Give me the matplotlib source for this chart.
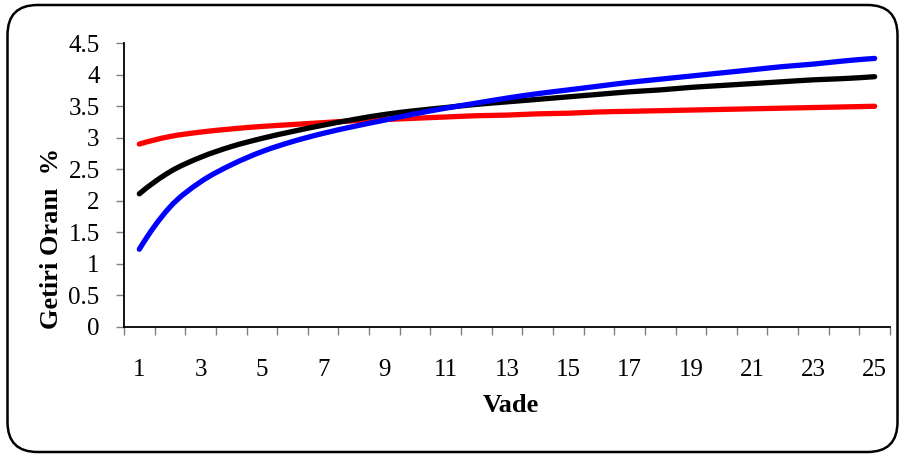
import numpy as np
import matplotlib
matplotlib.use('Agg')
import matplotlib.pyplot as plt
from matplotlib import rcParams
from matplotlib.patches import FancyBboxPatch, PathPatch
from matplotlib.path import Path

rcParams['font.family'] = 'Liberation Serif'
rcParams['font.size'] = 18

# vade (yil) ve getiri oranlari (%)
vade = np.arange(1, 26)
mavi = [1.23, 1.90, 2.30, 2.57, 2.78, 2.94, 3.07, 3.18, 3.28, 3.38, 3.47, 3.55, 3.63,
        3.70, 3.76, 3.82, 3.88, 3.93, 3.98, 4.03, 4.08, 4.13, 4.17, 4.22, 4.26]
siyah = [2.11, 2.46, 2.69, 2.86, 2.99, 3.10, 3.20, 3.29, 3.37, 3.43, 3.48, 3.53, 3.57,
         3.61, 3.65, 3.69, 3.73, 3.76, 3.80, 3.83, 3.86, 3.89, 3.92, 3.94, 3.97]
kirmizi = [2.90, 3.02, 3.09, 3.14, 3.18, 3.21, 3.24, 3.27, 3.29, 3.31, 3.33, 3.35, 3.36,
           3.38, 3.39, 3.41, 3.42, 3.43, 3.44, 3.45, 3.46, 3.47, 3.48, 3.49, 3.50]
yticks = np.arange(0, 4.51, 0.5)
ylabels = ['0', '0.5', '1', '1.5', '2', '2.5', '3', '3.5', '4', '4.5']


def smooth_line(ax, x, y, color, lw, z):
    # Excel "smoothed line" gibi: noktalar arasinda bezier egrileri
    p = np.column_stack([x, y]).astype(float)
    m = np.zeros_like(p)
    m[1:-1] = (p[2:] - p[:-2]) / 2
    m[0] = 2 * (p[1] - p[0]) - m[1]
    m[-1] = 2 * (p[-1] - p[-2]) - m[-2]
    verts = [p[0]]
    codes = [Path.MOVETO]
    for i in range(len(p) - 1):
        verts += [p[i] + m[i] / 3, p[i + 1] - m[i + 1] / 3, p[i + 1]]
        codes += [Path.CURVE4] * 3
    ax.add_patch(PathPatch(Path(verts, codes), fill=False, ec=color, lw=lw,
                           capstyle='round', joinstyle='round', zorder=z))


fig = plt.figure(figsize=(9, 4.57), dpi=100)
ax = fig.add_axes([124/900, 1-326.7/457, 766/900, 283.4/457])

lw = 3.8
smooth_line(ax, vade, kirmizi, '#ff0000', lw, 3)
smooth_line(ax, vade, siyah, 'black', lw, 4)
smooth_line(ax, vade, mavi, '#0000ff', lw, 5)

ax.set_xlim(0.5, 25.5)
ax.set_ylim(0, 4.5)
ax.set_yticks(yticks)
ax.set_yticklabels(ylabels)
# kategori sinirlarinda tik, tek sayilarda etiket
ax.set_xticks(np.arange(0.5, 26, 1))
ax.set_xticklabels([])
ax.set_xticks(vade[::2], minor=True)
ax.set_xticklabels([str(v) for v in vade[::2]], minor=True)
ax.tick_params(axis='x', which='major', direction='out', length=6, width=1, color='#808080')
ax.tick_params(axis='x', which='minor', length=0, pad=23)
ax.tick_params(axis='y', direction='out', length=5.5, width=1, color='#808080', pad=12)

for s in ['top', 'right']:
    ax.spines[s].set_visible(False)
for s in ['left', 'bottom']:
    ax.spines[s].set_linewidth(1.3)

fig.text(511/900, 1-405/457, 'Vade', ha='center', va='center', fontsize=19, fontweight='bold')
fig.text(52/900, 1-238.5/457, 'Getiri Oranı  %', ha='center', va='center', rotation=90,
         fontsize=19, fontweight='bold')

box = FancyBboxPatch((0.075, 0.05), 8.9, 4.47, boxstyle='round,pad=0,rounding_size=0.3',
                     transform=fig.dpi_scale_trans, fill=False, ec='black', lw=1.8)
fig.add_artist(box)

plt.savefig('out.png', dpi=100)
